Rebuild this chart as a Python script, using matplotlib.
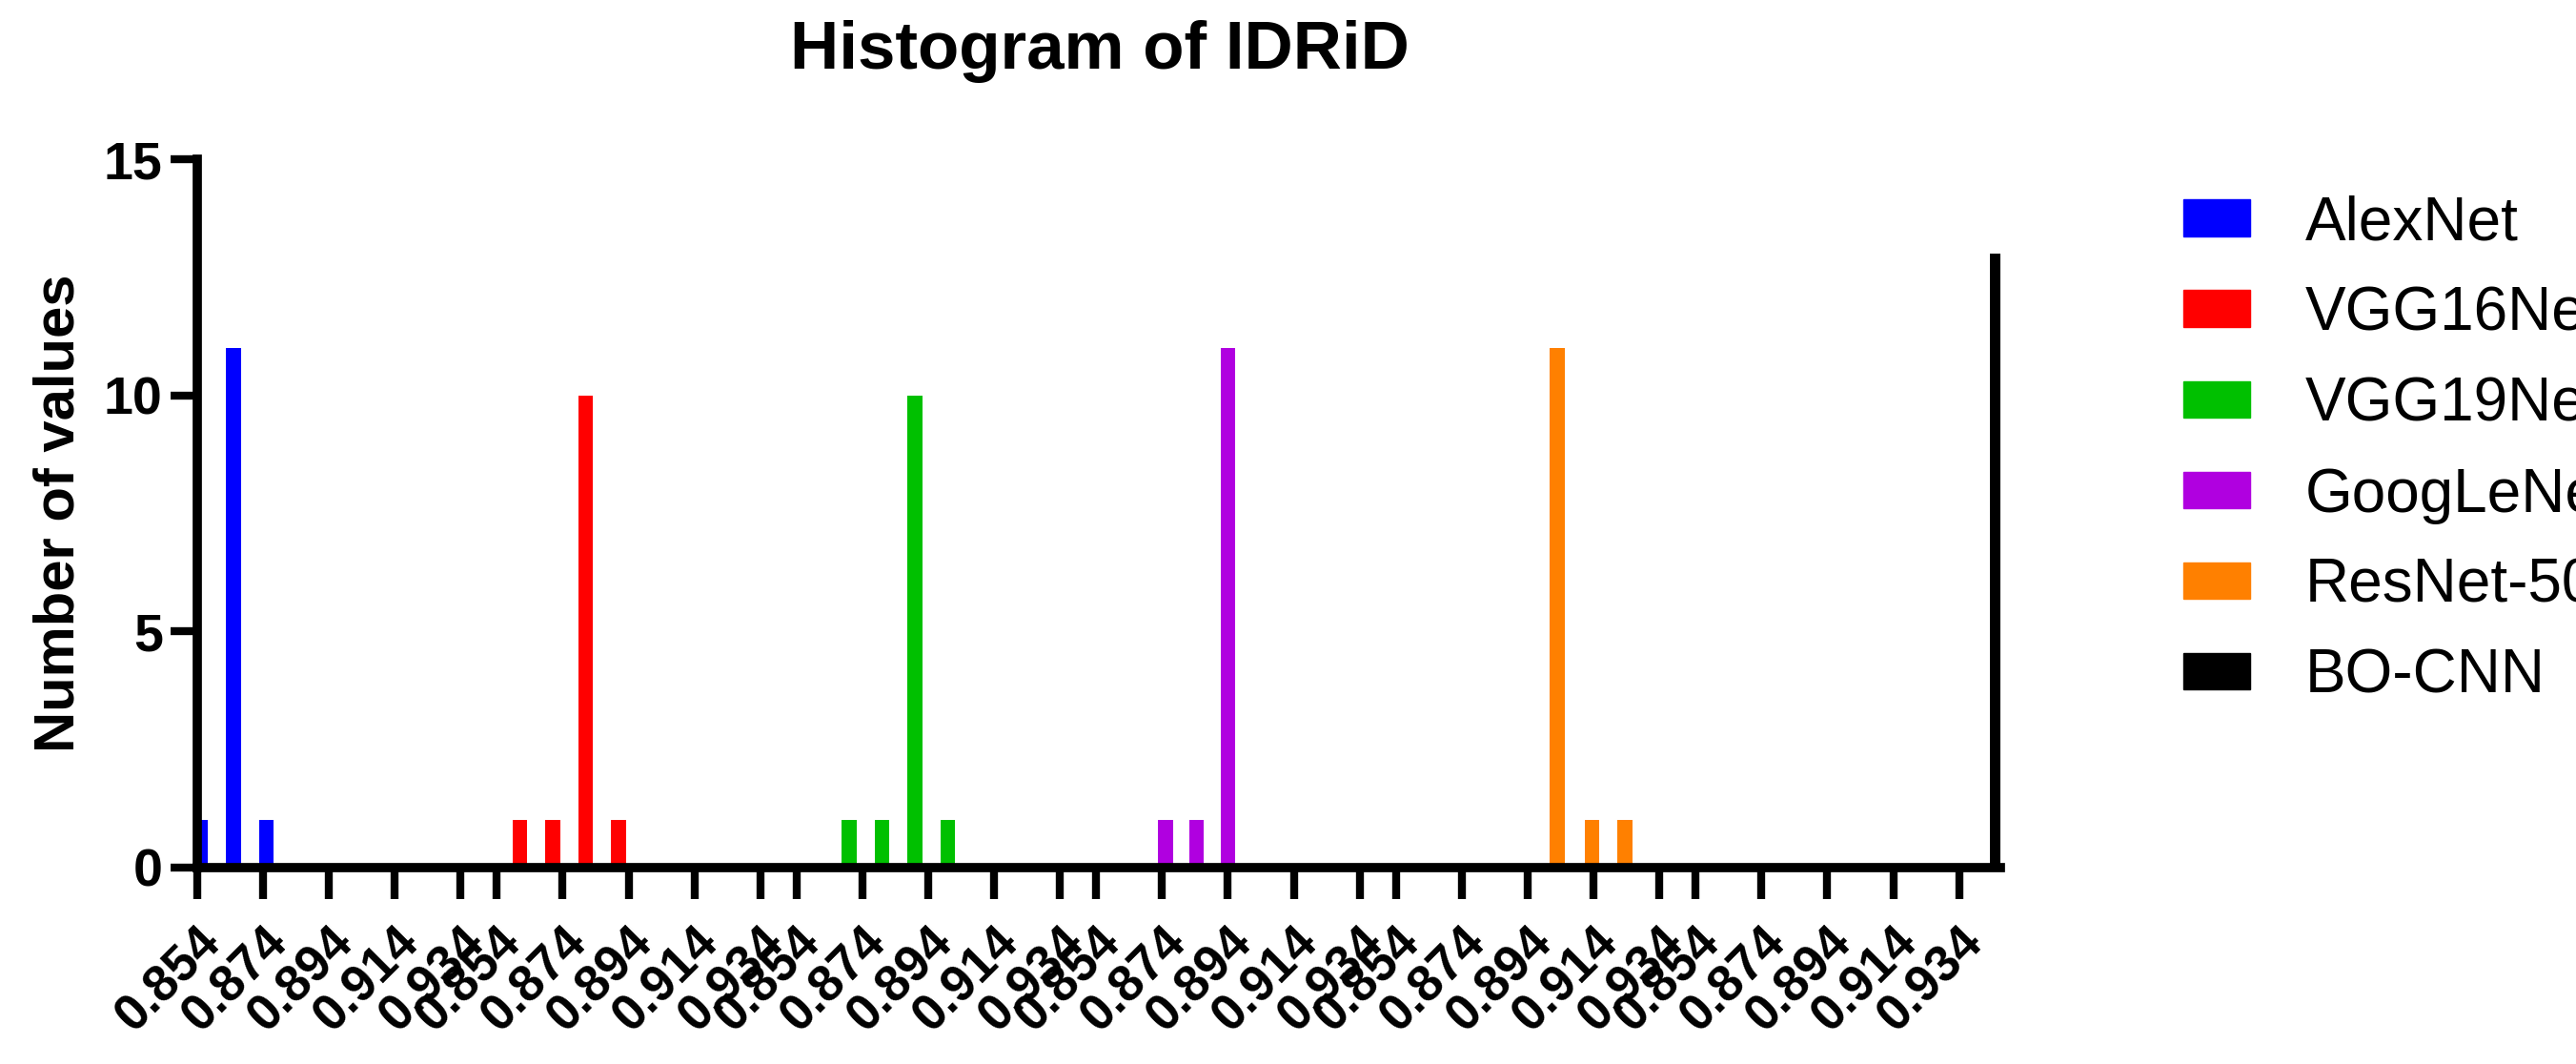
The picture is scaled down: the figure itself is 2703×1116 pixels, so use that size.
import matplotlib
matplotlib.use("Agg")
import matplotlib.pyplot as plt
from matplotlib.patches import Patch

plt.rcParams['font.family'] = ['Liberation Sans', 'DejaVu Sans']

series = ["AlexNet", "VGG16Net", "VGG19Net", "GoogLeNet", "ResNet-50", "BO-CNN"]
colors = ["#0000ff", "#ff0000", "#00c000", "#b000e0", "#ff8000", "#000000"]
bin_values = [
    [0.855, 0.865, 0.875],
    [0.861, 0.871, 0.881, 0.891],
    [0.870, 0.880, 0.890, 0.900],
    [0.875, 0.8845, 0.894],
    [0.903, 0.9135, 0.9235],
    [0.9455],
]
counts = [
    [1, 11, 1],
    [1, 1, 10, 1],
    [1, 1, 10, 1],
    [1, 1, 11],
    [11, 1, 1],
    [13],
]
tick_values = [0.854, 0.874, 0.894, 0.914, 0.934]
tick_labels = ["0.854", "0.874", "0.894", "0.914", "0.934"]

GROUP = 0.091

fig = plt.figure(figsize=(27.03, 11.16), dpi=100)
ax = fig.add_axes([0.0765, 0.185, 0.700, 0.665])

for g, (vals, cnts, col) in enumerate(zip(bin_values, counts, colors)):
    xs = [g * GROUP + v for v in vals]
    ax.bar(xs, cnts, width=0.0045, color=col, label=series[g], zorder=2)

ticks, labels = [], []
for g in range(len(series)):
    for v, l in zip(tick_values, tick_labels):
        ticks.append(g * GROUP + v)
        labels.append(l)
ax.set_xticks(ticks)
ax.set_xticklabels(labels, rotation=45, ha='right', rotation_mode='anchor',
                   fontsize=38, fontweight='bold')
ax.set_xlim(0.854, 5 * GROUP + 0.9465)
ax.set_ylim(0, 15)
ax.set_yticks([0, 5, 10, 15])
ax.set_yticklabels(["0", "5", "10", "15"], fontsize=40, fontweight='bold')

for s in ['top', 'right']:
    ax.spines[s].set_visible(False)
for s in ['left', 'bottom']:
    ax.spines[s].set_linewidth(7)
ax.tick_params(axis='x', length=24, width=6, direction='out', pad=14)
ax.tick_params(axis='y', length=20, width=6, direction='out', pad=6)

ax.set_ylabel("Number of values", fontsize=43, fontweight='bold', labelpad=14)
fig.text(0.427, 0.952, "Histogram of IDRiD", fontsize=51, fontweight='bold',
         ha='center', va='center')

handles = [Patch(color=c, label=s) for c, s in zip(colors, series)]
fig.legend(handles=handles, loc='upper left', bbox_to_anchor=(0.838, 0.84),
           frameon=False, fontsize=46, handlelength=1.1, handleheight=0.55,
           labelspacing=0.55, handletextpad=0.9, borderaxespad=0)

fig.savefig("out.png", dpi=100)
